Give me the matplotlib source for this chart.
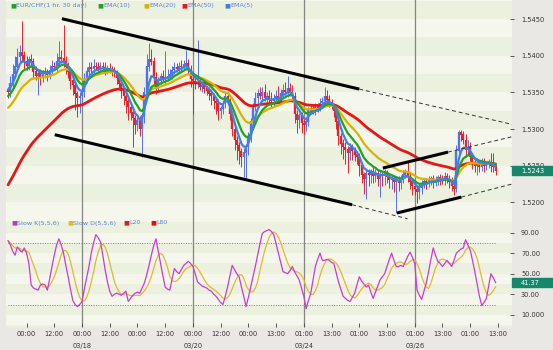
import numpy as np
import pandas as pd
import matplotlib
matplotlib.use("Agg")
import matplotlib.pyplot as plt
from matplotlib.transforms import blended_transform_factory
from matplotlib.patches import Rectangle

W, H = 553, 350

# hourly EUR/CHF closes, in pips above 1.5000
closes = [
    350, 362, 375, 385, 398, 405, 400, 392, 386, 395,
    392, 378, 372, 376, 370, 375, 378, 374, 380, 386,
    384, 392, 398, 396, 392, 385, 378, 366, 360, 348,
    342, 345, 350, 368, 378, 384, 382, 386, 384, 382,
    385, 384, 380, 383, 381, 379, 376, 370, 362, 352,
    345, 338, 330, 322, 315, 305, 312, 300, 318, 350,
    385, 395, 392, 370, 358, 365, 372, 368, 370, 372,
    374, 380, 384, 382, 386, 384, 388, 390, 380, 368,
    365, 362, 364, 358, 360, 355, 352, 348, 345, 338,
    335, 325, 328, 335, 345, 338, 320, 300, 285, 278,
    270, 262, 268, 275, 290, 310, 330, 342, 348, 345,
    350, 342, 345, 340, 338, 342, 345, 340, 348, 352,
    350, 355, 350, 345, 320, 312, 318, 308, 305, 310,
    325, 328, 325, 330, 328, 335, 338, 345, 340, 336,
    332, 325, 310, 290, 280, 275, 272, 268, 275, 270,
    265, 262, 250, 238, 232, 240, 238, 242, 236, 240,
    232, 238, 236, 240, 235, 230, 232, 228, 230, 226,
    232, 238, 242, 236, 228, 222, 218, 214, 220, 226,
    228, 226, 230, 232, 228, 230, 234, 232, 230, 236,
    232, 228, 222, 218, 270, 295, 292, 285, 272, 275,
    262, 255, 250, 252, 248, 255, 250, 252, 255, 250,
    248, 243,
]
first_open = 352

# wick lengths above / below the candle body, pips
hi_ext = [
    6, 10, 14, 15, 12, 10, 42, 6, 8, 5,
    7, 5, 8, 4, 6, 5, 6, 4, 7, 8,
    6, 12, 22, 10, 46, 8, 6, 5, 4, 5,
    4, 6, 5, 8, 6, 8, 7, 9, 6, 8,
    7, 6, 8, 5, 7, 5, 6, 4, 5, 4,
    5, 6, 4, 5, 6, 4, 5, 6, 4, 8,
    18, 22, 14, 6, 8, 6, 5, 8, 36, 10,
    8, 6, 7, 6, 5, 8, 6, 18, 6, 8,
    6, 10, 58, 6, 5, 6, 4, 5, 6, 4,
    5, 6, 4, 5, 6, 5, 4, 5, 4, 6,
    5, 4, 6, 5, 6, 5, 6, 8, 6, 10,
    8, 12, 6, 8, 10, 6, 8, 14, 6, 10,
    12, 18, 8, 10, 5, 6, 4, 5, 6, 4,
    5, 6, 4, 6, 5, 8, 6, 12, 8, 6,
    5, 4, 6, 5, 4, 6, 8, 5, 6, 4,
    5, 4, 6, 5, 4, 6, 5, 4, 6, 5,
    4, 6, 5, 6, 4, 5, 6, 4, 5, 6,
    5, 6, 4, 14, 5, 4, 5, 4, 6, 5,
    4, 5, 6, 4, 5, 6, 4, 5, 6, 5,
    4, 5, 6, 5, 8, 4, 4, 6, 8, 10,
    8, 6, 5, 4, 6, 5, 6, 5, 4, 12,
    18, 5,
]
lo_ext = [
    8, 6, 5, 6, 4, 6, 8, 10, 6, 5,
    6, 8, 5, 26, 10, 6, 5, 8, 6, 5,
    4, 6, 5, 6, 8, 10, 8, 12, 14, 22,
    25, 20, 12, 6, 5, 4, 6, 5, 4, 6,
    5, 4, 6, 5, 4, 6, 5, 8, 6, 10,
    12, 16, 18, 10, 40, 12, 8, 10, 38, 10,
    8, 6, 5, 8, 10, 6, 5, 4, 6, 5,
    4, 6, 5, 4, 6, 5, 4, 6, 5, 10,
    45, 8, 6, 5, 8, 6, 5, 8, 12, 10,
    14, 12, 10, 8, 6, 5, 8, 10, 14, 20,
    18, 14, 28, 35, 10, 8, 6, 5, 6, 4,
    5, 4, 6, 5, 8, 6, 5, 4, 6, 5,
    4, 6, 5, 8, 12, 18, 10, 14, 12, 8,
    6, 5, 4, 6, 5, 4, 6, 5, 4, 6,
    5, 8, 10, 12, 14, 16, 20, 28, 10, 12,
    8, 10, 14, 12, 20, 28, 16, 12, 10, 8,
    10, 24, 14, 12, 8, 10, 12, 14, 43, 10,
    8, 6, 5, 8, 10, 12, 8, 15, 10, 8,
    6, 8, 5, 6, 8, 5, 6, 8, 5, 6,
    5, 8, 6, 8, 4, 6, 8, 6, 10, 8,
    6, 10, 8, 12, 6, 5, 8, 6, 5, 8,
    6, 5,
]

# EMA periods and their values at the first visible bar (pips)
ema_names = ["EMA(50)", "EMA(20)", "EMA(10)", "EMA(5)"]
ema_periods = [50, 20, 10, 5]
ema_start = [224, 329, 345, 354]

# Slow %K(5,5,6)
stoch_k = [
    82, 78, 72, 68, 76, 73, 71, 75, 70, 60,
    39, 36, 35, 34, 39, 40, 39, 34, 45, 57,
    68, 78, 84, 78, 70, 58, 47, 35, 24, 20,
    18, 20, 23, 35, 46, 57, 70, 80, 88, 85,
    81, 68, 54, 42, 33, 28, 30, 31, 30, 29,
    31, 33, 23, 26, 29, 31, 32, 31, 36, 41,
    49, 58, 68, 77, 84, 72, 60, 48, 37, 35,
    34, 45, 55, 52, 50, 54, 58, 60, 62, 60,
    57, 50, 42, 40, 38, 37, 36, 34, 33, 30,
    28, 25, 22, 20, 28, 37, 48, 58, 54, 50,
    47, 37, 28, 18, 27, 37, 47, 57, 68, 79,
    89, 91, 92, 93, 91, 88, 79, 70, 61, 52,
    51, 50, 53, 57, 52, 48, 44, 36, 28, 16,
    24, 31, 44, 57, 64, 70, 63, 63, 64, 63,
    61, 60, 51, 42, 35, 28, 26, 24, 23, 27,
    31, 39, 47, 43, 40, 37, 39, 32, 26, 32,
    38, 44, 47, 50, 57, 64, 70, 63, 57, 57,
    58, 57, 62, 67, 71, 66, 60, 34, 29, 25,
    33, 41, 52, 64, 75, 68, 62, 60, 57, 60,
    63, 60, 57, 63, 70, 72, 74, 75, 83, 78,
    73, 63, 52, 40, 28, 19, 22, 26, 38, 50,
    46, 41.37,
]
stoch_d_period = 6
stoch_levels = [20, 80]

# x axis: one bar per hour
tick_idx = [8 + 12 * k for k in range(18)]
tick_labels = ["00:00", "12:00", "00:00", "12:00", "00:00", "12:00", "00:00", "12:00",
               "00:00", "13:00", "01:00", "13:00", "01:00", "13:00", "01:00", "13:00",
               "01:00", "13:00"]
date_idx = [32, 80, 128, 176]
date_labels = ["03/18", "03/20", "03/24", "03/26"]

price_ticks = [1.5200, 1.5250, 1.5300, 1.5350, 1.5400, 1.5450]
stoch_ticks = [10, 30, 50, 70, 90]
stoch_tick_labels = ["10.000", "30.00", "50.00", "70.00", "90.00"]

# hand-drawn trend lines (bar index, price)
trend_solid = [((23.3, 1.54505), (152.0, 1.53545)),
               ((20.2, 1.52923), (148.9, 1.51968)),
               ((162.2, 1.52468), (190.4, 1.52686)),
               ((168.3, 1.51855), (196.2, 1.52073))]
trend_dashed = [((152.0, 1.53545), (218.7, 1.53060)),
                ((148.9, 1.51968), (172.9, 1.51777)),
                ((190.4, 1.52686), (218.7, 1.52900)),
                ((196.2, 1.52073), (218.7, 1.52255))]


def ema(values, period, start):
    a = 2.0 / (period + 1)
    out = [start]
    for v in values[1:]:
        out.append(out[-1] + a * (v - out[-1]))
    return np.array(out)


def to_price(p):
    return 1.5 + np.asarray(p, dtype=float) / 10000.0


c = np.array(closes, dtype=float)
o = np.array([first_open] + closes[:-1], dtype=float)
hi = np.maximum(o, c) + np.array(hi_ext)
lo = np.minimum(o, c) - np.array(lo_ext)
x = np.arange(len(c))

k = pd.Series(stoch_k, dtype=float)
d = k.rolling(stoch_d_period, min_periods=1).mean()

# colours
BG_FIG = "#e9e8e4"
BG_LIGHT = "#f5f7ec"
BG_DARK = "#ebf0df"
UP_COL = "#5571ea"
DOWN_COL = "#e8222a"
EMA_COLS = {"EMA(50)": "#e41616", "EMA(20)": "#d8b400", "EMA(10)": "#21a321", "EMA(5)": "#3f80e8"}
EMA_LW = {"EMA(50)": 2.0, "EMA(20)": 1.6, "EMA(10)": 1.6, "EMA(5)": 1.6}
K_COL = "#c83cd0"
D_COL = "#e3b82e"
LEVEL_COL = "#e0603a"
TXT = "#333333"
LEG_TXT = "#5a86d6"
BOX = "#16876a"
SEP = "#858585"

fig = plt.figure(figsize=(W / 100, H / 100), dpi=100, facecolor=BG_FIG)
ax1 = fig.add_axes([6 / W, 1 - 220 / H, 506 / W, 220 / H])
ax2 = fig.add_axes([6 / W, 1 - 327 / H, 506 / W, 107 / H])

xlim = (-0.9, 218.1)
for ax in (ax1, ax2):
    ax.set_facecolor(BG_LIGHT)
    ax.set_xlim(*xlim)
    for s in ax.spines.values():
        s.set_visible(False)
    for xi in date_idx:
        ax.axvline(xi, color=SEP, lw=0.9, zorder=1)

# background bands
ax1.set_ylim(1.5176, 1.5476)
for t in np.arange(1.5150, 1.5500, 0.005):
    ax1.axhspan(t, t + 0.0025, color=BG_DARK, lw=0, zorder=0)
ax2.set_ylim(-1.9, 102.3)
for t in range(-10, 110, 20):
    ax2.axhspan(t, t + 10, color=BG_DARK, lw=0, zorder=0)

# candles
up = c >= o
cols = np.where(up, UP_COL, DOWN_COL)
ax1.vlines(x, to_price(lo), to_price(hi), colors=cols, lw=0.7, zorder=2)
ax1.vlines(x, to_price(np.minimum(o, c)), to_price(np.maximum(o, c) + 0.6), colors=cols, lw=1.7, zorder=2)

# moving averages
for name, per, st in zip(ema_names, ema_periods, ema_start):
    ax1.plot(x, to_price(ema(closes, per, st)), color=EMA_COLS[name], lw=EMA_LW[name],
             solid_capstyle="round", zorder=3)

# trend lines
for (x0, y0), (x1, y1) in trend_solid:
    ax1.plot([x0, x1], [y0, y1], color="black", lw=2.2, solid_capstyle="butt", zorder=4)
for (x0, y0), (x1, y1) in trend_dashed:
    ax1.plot([x0, x1], [y0, y1], color="#333333", lw=0.7, dashes=(4, 3), zorder=4)

# stochastic
for lv in stoch_levels:
    ax2.hlines(lv, 0, len(stoch_k) - 1, colors=LEVEL_COL, lw=0.7, linestyles=(0, (1, 1.5)), zorder=2)
ax2.plot(x, d, color=D_COL, lw=0.9, zorder=3)
ax2.plot(x, k, color=K_COL, lw=0.9, zorder=4)

# axes ticks
ax1.set_xticks([])
ax1.yaxis.tick_right()
ax1.set_yticks(price_ticks)
ax1.set_yticklabels([f"{t:.4f}" for t in price_ticks])
ax2.yaxis.tick_right()
ax2.set_yticks(stoch_ticks)
ax2.set_yticklabels(stoch_tick_labels)
for ax in (ax1, ax2):
    ax.tick_params(axis="y", direction="inout", length=3, width=0.7, color="#555555",
                   pad=5, labelsize=4.8, labelcolor=TXT)
ax2.set_xticks(tick_idx)
ax2.set_xticklabels(tick_labels)
ax2.tick_params(axis="x", direction="in", length=3, width=0.7, color="#555555",
                pad=3, labelsize=4.8, labelcolor=TXT)
for xi, lab in zip(date_idx, date_labels):
    ax2.annotate(lab, xy=(xi, 0), xycoords=("data", "axes fraction"), xytext=(0, -13.5),
                 textcoords="offset points", ha="center", va="center", fontsize=4.8, color=TXT)

# last value boxes
box_w = (W - 6) / 506 - 1.0
tr1 = blended_transform_factory(ax1.transAxes, ax1.transData)
last_price = to_price(closes[-1])
ax1.add_patch(Rectangle((1.0, last_price - 0.0006), box_w, 0.0012, transform=tr1,
                        color=BOX, clip_on=False, zorder=10))
ax1.text(1.018, last_price, f"{last_price:.4f}", transform=tr1, color="white",
         fontsize=4.8, va="center", ha="left", zorder=11, clip_on=False)
tr2 = blended_transform_factory(ax2.transAxes, ax2.transData)
last_k = stoch_k[-1]
ax2.add_patch(Rectangle((1.0, last_k - 4), box_w, 8, transform=tr2,
                        color=BOX, clip_on=False, zorder=10))
ax2.text(1.018, last_k, f"{last_k:.2f}", transform=tr2, color="white",
         fontsize=4.8, va="center", ha="left", zorder=11, clip_on=False)

# legends
def legend_item(px, py, col, label):
    fig.text((px - 2) / W, 1 - py / H, "\u25a0", color=col, fontsize=4.5, va="center", ha="left")
    fig.text((px + 4) / W, 1 - py / H, label, color=LEG_TXT, fontsize=4.6, va="center", ha="left")

legend_item(12, 6, "#21a321", "EUR/CHF(1 hr. 30 day)")
legend_item(99, 6, EMA_COLS["EMA(10)"], "EMA(10)")
legend_item(145, 6, EMA_COLS["EMA(20)"], "EMA(20)")
legend_item(183, 6, EMA_COLS["EMA(50)"], "EMA(50)")
legend_item(226, 6, EMA_COLS["EMA(5)"], "EMA(5)")

legend_item(13, 223, "#b83cc0", "Slow K(5,5,6)")
legend_item(69, 223, "#d8c020", "Slow D(5,5,6)")
legend_item(125, 223, "#d02020", "L20")
legend_item(152, 223, "#e01010", "L80")

fig.savefig("out.png", dpi=100, facecolor=BG_FIG)
